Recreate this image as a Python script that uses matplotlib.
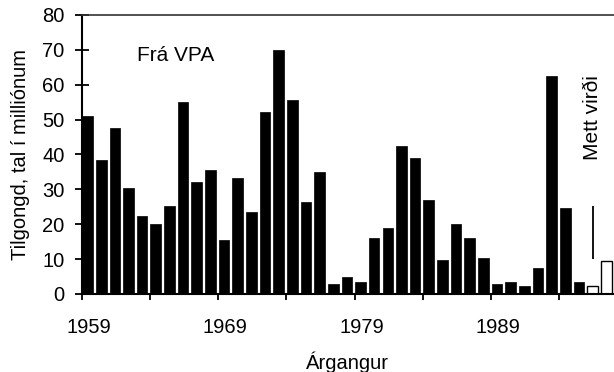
import matplotlib
matplotlib.use("Agg")
import matplotlib.pyplot as plt
from matplotlib.ticker import FixedLocator, FixedFormatter, NullFormatter
import numpy as np

plt.rcParams['font.family'] = ['Liberation Sans', 'DejaVu Sans']

# Year classes estimated from VPA (filled bars)
vpa_years = list(range(1959, 1996))
vpa_values = [51.0, 38.4, 47.7, 30.4, 22.4, 20.1, 25.2, 55.1, 32.1, 35.6,
              15.6, 33.3, 23.5, 52.2, 70.0, 55.6, 26.4, 35.0, 2.9, 5.0,
              3.4, 16.1, 18.9, 42.4, 39.0, 27.0, 9.7, 20.1, 16.1, 10.3,
              2.9, 3.4, 2.3, 7.5, 62.5, 24.7, 3.4]

# Year classes from survey estimates (open bars)
est_years = [1996, 1997]
est_values = [2.3, 9.6]

# Range of the survey estimate for 1996
range_year = 1996
range_low, range_high = 10.1, 25.2

tick_years = list(range(1959, 1999, 5))
label_years = [1959, 1969, 1979, 1989]
y_ticks = list(range(0, 81, 10))

FS = 14.5

fig = plt.figure(figsize=(6.14, 3.72), dpi=100)
ax = fig.add_axes([0.133, 0.2097, 0.867, 0.75])

width = 0.78
offset = 0.04
ax.bar(np.array(vpa_years) + offset, vpa_values, width=width, align='edge',
       color='black', edgecolor='black', linewidth=0.5)
ax.bar(np.array(est_years) + offset, est_values, width=width, align='edge',
       color='white', edgecolor='black', linewidth=1.0)
ax.vlines(range_year + offset + width / 2, range_low, range_high,
          color='black', linewidth=1.3)

ax.set_xlim(1959, 1998)
ax.set_ylim(0, 80)

# tick marks on category boundaries, labels centred in the category
ax.xaxis.set_major_locator(FixedLocator(tick_years))
ax.xaxis.set_major_formatter(NullFormatter())
ax.xaxis.set_minor_locator(FixedLocator([y + 0.5 for y in label_years]))
ax.xaxis.set_minor_formatter(FixedFormatter([str(y) for y in label_years]))
ax.set_yticks(y_ticks)

ax.tick_params(axis='x', which='major', direction='out', length=4, width=1.3)
ax.tick_params(axis='x', which='minor', length=0, labelsize=FS, pad=17)
ax.tick_params(axis='y', direction='inout', length=9.5, width=1.3,
               labelsize=FS, pad=7.5)

for side in ('left', 'bottom'):
    ax.spines[side].set_linewidth(1.5)
ax.spines['top'].set_linewidth(1.2)
ax.spines['top'].set_color('#333333')
ax.spines['right'].set_visible(False)

ax.set_xlabel('Árgangur', fontsize=FS)
ax.xaxis.set_label_coords(0.5, -0.205)
ax.set_ylabel('Tilgongd, tal í milliónum', fontsize=FS)
ax.yaxis.set_label_coords(-0.097, 0.5)

ax.text(1963.05, 68.5, 'Frá VPA', fontsize=15, ha='left', va='center')
ax.text(1996.45, 50.6, 'Mett virði', fontsize=15, rotation=90,
        ha='center', va='center')

fig.savefig('out.png', dpi=100)
